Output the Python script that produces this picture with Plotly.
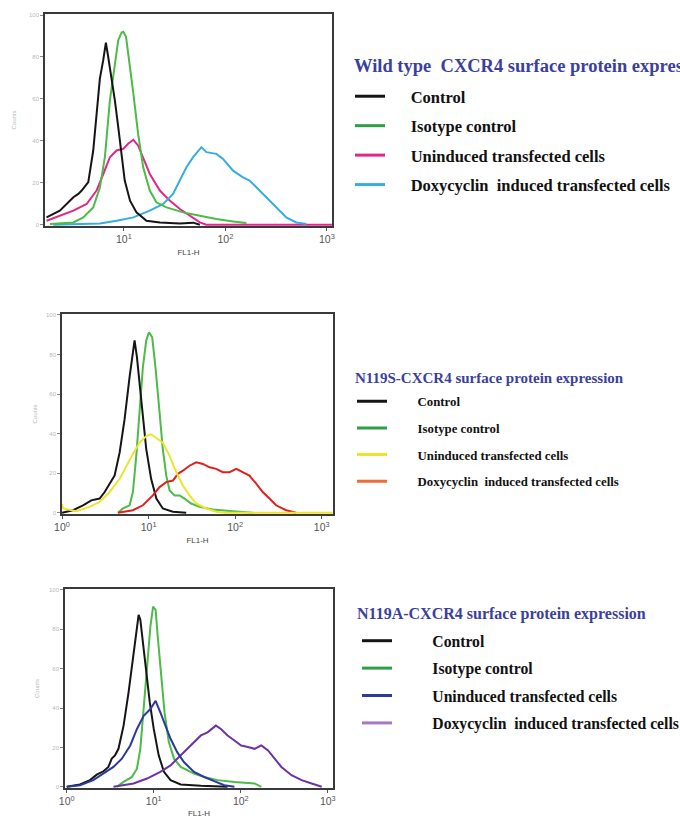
import plotly.graph_objects as go

# ---------------- Data (FL1-H value, counts) ----------------
legend_names = ["Control", "Isotype control", "Uninduced transfected cells",
                "Doxycyclin  induced transfected cells"]
panel_titles = ["Wild type  CXCR4 surface protein expression",
                "N119S-CXCR4 surface protein expression",
                "N119A-CXCR4 surface protein expression"]
x_tickvals = [1, 10, 100, 1000]
x_ticktext = ["10<sup>0</sup>", "10<sup>1</sup>", "10<sup>2</sup>", "10<sup>3</sup>"]
y_tickvals = [0, 20, 40, 60, 80, 100]
y_ticktext = ["0", "20", "40", "60", "80", "100"]

# Panel 1: Wild type
wt_ctrl_x = [1.73, 2.34, 3.18, 3.56, 3.84, 4.46, 4.99, 5.38, 5.80, 6.26, 6.65, 7.01, 7.57, 8.15, 8.80, 9.49, 10.2, 11.5, 13.3, 16.7, 22.6, 35.6, 48.1, 56.0]
wt_ctrl_y = [3.5, 6.7, 13.1, 14.7, 16.3, 20.3, 35.4, 54.5, 69.7, 78.5, 86.8, 80.0, 70.5, 59.3, 46.6, 33.8, 21.1, 11.5, 5.9, 1.9, 1.1, 0.6, 1.0, 0.0]
wt_iso_x = [1.87, 3.18, 3.98, 4.99, 5.81, 6.50, 7.28, 8.15, 8.80, 9.49, 9.85, 10.5, 11.5, 12.4, 13.8, 15.5, 18.0, 20.9, 26.3, 38.4, 56.0, 81.5, 119, 161]
wt_iso_y = [0.3, 1.1, 3.5, 8.3, 17.9, 32.2, 59.3, 75.3, 88.0, 91.7, 92.0, 89.6, 75.3, 62.5, 43.4, 27.4, 16.3, 10.7, 8.3, 5.9, 4.3, 2.7, 1.6, 0.8]
wt_unind_x = [1.73, 2.34, 3.18, 4.30, 5.38, 6.27, 7.28, 8.47, 9.85, 11.0, 12.4, 13.8, 15.5, 18.0, 22.6, 28.3, 35.6, 44.6, 56.0, 65.0, 1120]
wt_unind_y = [1.9, 4.3, 6.7, 9.9, 16.3, 24.2, 32.2, 35.4, 36.2, 38.6, 40.5, 37.8, 32.2, 24.2, 16.3, 11.5, 7.5, 4.3, 1.1, 0.0, 0.0]
wt_dox_x = [2.02, 5.81, 8.47, 12.4, 18.0, 24.4, 30.5, 35.6, 41.3, 48.1, 56.0, 58.1, 65.0, 81.5, 94.8, 119, 149, 173, 202, 253, 318, 398, 499, 627]
wt_dox_y = [0.0, 0.6, 1.9, 3.5, 6.7, 9.9, 14.7, 21.1, 27.4, 32.2, 36.2, 37.0, 34.6, 33.8, 31.4, 25.8, 22.6, 21.1, 17.9, 13.1, 8.3, 3.5, 1.1, 0.3]

# Panel 2: N119S
s_ctrl_x = [1.0, 1.34, 1.75, 2.18, 2.72, 3.11, 3.55, 4.05, 4.63, 5.28, 6.04, 6.59, 6.89, 7.33, 7.87, 8.60, 9.40, 10.7, 12.3, 14.6, 19.1, 27.2]
s_ctrl_y = [0.0, 1.3, 3.8, 6.3, 7.2, 10.5, 14.7, 18.8, 30.5, 47.2, 68.8, 82.2, 87.2, 78.8, 65.5, 47.2, 32.2, 17.2, 7.2, 2.2, 0.5, 0.0]
s_iso_x = [4.43, 5.06, 6.04, 6.59, 7.21, 7.87, 8.60, 9.40, 10.1, 11.0, 12.0, 13.2, 14.6, 16.0, 17.5, 20.0, 22.8, 26.0, 31.0, 38.8, 55.2, 94.0, 160]
s_iso_y = [0.0, 2.2, 3.8, 10.5, 28.8, 52.2, 73.8, 87.2, 91.3, 88.8, 73.8, 53.8, 32.2, 18.8, 11.3, 8.8, 8.8, 7.2, 4.7, 3.0, 1.7, 0.8, 0.0]
s_unind_x = [1.0, 1.03, 1.46, 2.08, 2.72, 3.55, 4.63, 5.52, 6.59, 7.87, 9.40, 10.7, 12.3, 14.6, 17.5, 20.9, 24.9, 29.7, 35.5, 46.3, 60.3, 78.7, 1340]
s_unind_y = [4.5, 2.2, 0.8, 3.0, 5.5, 10.5, 17.2, 23.8, 29.7, 35.5, 38.8, 39.7, 38.0, 35.5, 28.8, 20.5, 13.8, 8.8, 4.7, 2.2, 0.5, 0.0, 0.0]
s_dox_x = [4.43, 6.59, 8.60, 11.2, 13.4, 16.0, 19.1, 21.8, 24.9, 29.7, 35.5, 42.4, 50.6, 60.4, 72.1, 86.1, 103, 122, 146, 175, 208, 249, 297, 388, 506]
s_dox_y = [0.0, 1.3, 3.8, 8.8, 13.0, 15.5, 16.3, 19.7, 21.3, 23.8, 25.5, 24.7, 23.0, 22.2, 20.5, 20.5, 22.2, 20.5, 18.8, 14.7, 10.5, 7.2, 3.8, 1.3, 0.0]

# Panel 3: N119A
a_ctrl_x = [1.0, 1.42, 1.85, 2.21, 2.64, 3.01, 3.29, 3.59, 3.93, 4.50, 5.13, 5.86, 6.41, 6.70, 7.01, 7.52, 8.22, 9.00, 10.0, 11.4, 13.1, 15.6, 20.4, 34.8, 70.6]
a_ctrl_y = [0.0, 1.2, 3.4, 6.2, 7.9, 10.1, 14.3, 16.0, 19.3, 31.1, 47.9, 68.1, 81.5, 87.4, 84.9, 73.1, 59.7, 42.9, 29.4, 16.0, 7.6, 3.4, 1.2, 0.5, 0.0]
a_iso_x = [3.76, 4.50, 5.61, 6.41, 7.01, 7.66, 8.37, 9.15, 9.82, 10.5, 11.1, 12.2, 13.3, 14.9, 17.1, 20.4, 24.3, 29.0, 38.0, 54.2, 84.6, 144, 172]
a_iso_y = [0.0, 2.5, 5.0, 9.2, 19.3, 39.5, 59.7, 81.5, 91.6, 89.9, 76.5, 56.3, 37.8, 22.7, 14.3, 10.1, 8.4, 6.7, 5.0, 3.4, 2.5, 1.7, 0.0]
a_unind_x = [1.0, 1.42, 2.02, 2.64, 3.44, 4.30, 5.37, 6.41, 7.66, 9.15, 10.5, 11.9, 13.6, 15.6, 18.6, 22.2, 29.0, 38.0, 49.5, 64.7, 84.6]
a_unind_y = [0.0, 0.8, 3.4, 6.7, 10.1, 14.3, 21.0, 29.4, 36.1, 39.5, 43.7, 37.8, 31.1, 24.4, 17.6, 12.6, 7.6, 5.0, 2.9, 0.8, 0.0]
a_dox_x = [3.44, 5.86, 8.37, 11.9, 15.6, 20.4, 26.6, 34.8, 41.5, 51.8, 59.2, 70.6, 84.6, 101, 121, 144, 172, 206, 245, 293, 383, 500, 653, 853]
a_dox_y = [0.0, 1.7, 4.2, 7.6, 10.9, 16.0, 21.0, 26.1, 27.7, 31.1, 29.4, 26.1, 23.5, 21.0, 20.2, 19.3, 21.0, 18.5, 14.3, 10.1, 5.9, 3.4, 1.7, 0.0]

panels = [
    dict(series=[(wt_ctrl_x, wt_ctrl_y), (wt_iso_x, wt_iso_y), (wt_unind_x, wt_unind_y), (wt_dox_x, wt_dox_y)],
         colors=["#151515", "#4cbb47", "#e2278a", "#35ade2"],
         legend_colors=["#151515", "#2e9e48", "#e2278a", "#35ade2"]),
    dict(series=[(s_ctrl_x, s_ctrl_y), (s_iso_x, s_iso_y), (s_unind_x, s_unind_y), (s_dox_x, s_dox_y)],
         colors=["#151515", "#4cbb47", "#eee32e", "#e0201f"],
         legend_colors=["#151515", "#2e9e48", "#eee32e", "#f06a35"]),
    dict(series=[(a_ctrl_x, a_ctrl_y), (a_iso_x, a_iso_y), (a_unind_x, a_unind_y), (a_dox_x, a_dox_y)],
         colors=["#151515", "#4cbb47", "#2a3aa0", "#6a35a3"],
         legend_colors=["#151515", "#2e9e48", "#2a3aa0", "#a678c8"]),
]

W, H = 680, 818
boxes = [  # left, right, top, bottom in px
    (45, 332, 14, 226),
    (62, 333, 314, 514),
    (65, 333, 589, 788),
]
xranges = [[0.223, 3.05], [0.0, 3.13], [-0.02, 3.06]]
# title: (x_left, y_center, size); legend: (x_left, y_top, font size, group gap, nbsp pad)
title_pos = [(352, 66, 18.5), (353, 378, 15), (355, 614, 16)]
legend_pos = [(350, 79, 16.5, 5, 5), (352, 386.5, 12.8, 7, 8), (357, 624, 15.7, 4, 9)]
order_draw = [[2, 3, 1, 0], [1, 0, 3, 2], [1, 0, 3, 2]]

fig = go.Figure()
layout = dict(width=W, height=H, paper_bgcolor="white", plot_bgcolor="white",
              margin=dict(l=0, r=0, t=0, b=0, autoexpand=False), showlegend=True)
annotations = []

for i, p in enumerate(panels):
    sfx = "" if i == 0 else str(i + 1)
    xa, ya = "x" + sfx, "y" + sfx
    lg = "legend" + sfx
    lx, ly, fsize, gap, pad = legend_pos[i]
    for k in order_draw[i]:
        xs, ys = p["series"][k]
        fig.add_trace(go.Scatter(x=xs, y=ys, mode="lines", xaxis=xa, yaxis=ya,
                                 line=dict(color=p["colors"][k], width=2),
                                 showlegend=False, hoverinfo="skip"))
    for k, nm in enumerate(legend_names):
        fig.add_trace(go.Scatter(x=[None], y=[None], mode="lines", xaxis=xa, yaxis=ya,
                                 name="\u00a0" * pad + nm.replace("  ", "\u00a0 "),
                                 legend=lg, legendgroup=f"g{i}{k}",
                                 line=dict(color=p["legend_colors"][k], width=3)))
    l, r, t, b = boxes[i]
    layout["xaxis" + sfx] = dict(
        type="log", range=xranges[i], domain=[l / W, r / W], anchor=ya,
        tickvals=x_tickvals, ticktext=x_ticktext, ticks="outside", ticklen=3,
        tickcolor="#555", showline=True, mirror=True, linecolor="#3a3a3a", linewidth=1.5,
        showgrid=False, zeroline=False, tickfont=dict(family="Liberation Sans", size=10.5, color="#555"),
        title=dict(text="FL1-H", font=dict(family="Liberation Sans", size=8, color="#444"), standoff=5))
    layout["yaxis" + sfx] = dict(
        range=[-0.6, 100.5], domain=[1 - b / H, 1 - t / H], anchor=xa,
        tickvals=y_tickvals, ticktext=y_ticktext, ticks="outside", ticklen=3, tickcolor="#888",
        showline=True, mirror=True, linecolor="#3a3a3a", linewidth=1.5,
        showgrid=False, zeroline=False, tickfont=dict(family="Liberation Sans", size=6, color="#b8b8b8"),
        title=dict(text="Counts", font=dict(family="Liberation Sans", size=6, color="#b8b8b8"),
                   standoff=[12, 8, 9][i]))
    layout[lg] = dict(
        x=lx / W, y=1 - ly / H, xanchor="left", yanchor="top", bgcolor="rgba(0,0,0,0)",
        itemwidth=30, tracegroupgap=gap, traceorder="grouped",
        font=dict(family="Liberation Serif", size=fsize, color="#111", weight="bold"))
    tx, ty, ts = title_pos[i]
    annotations.append(dict(
        text=panel_titles[i].replace("  ", "\u00a0 "), xref="paper", yref="paper",
        x=tx / W, y=1 - ty / H, xanchor="left", yanchor="middle", showarrow=False,
        font=dict(family="Liberation Serif", size=ts, color="#3b3f9e", weight="bold")))

layout["annotations"] = annotations
fig.update_layout(**layout)
fig.write_html("out.html", config={"displayModeBar": False},
               post_script="document.body.style.margin='0';")
